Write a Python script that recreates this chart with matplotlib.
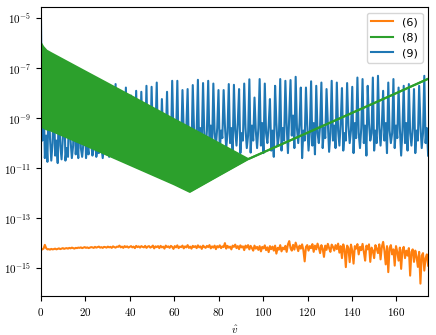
import numpy as np
import matplotlib
matplotlib.use("Agg")
from matplotlib import pyplot as plt

plt.rcParams['font.family'] = 'serif'
plt.rcParams['font.serif'] = ['cmr10']
plt.rcParams['mathtext.fontset'] = 'cm'
plt.rcParams['axes.formatter.use_mathtext'] = True
plt.rcParams['font.size'] = 8

# sample grid of v-hat (same for (6) and (9))
v_end = 174.3
n_pts = 302

# (9): log10 values, first two points then rows of [spike, noise, noise, noise]
blue_log = [
    -5.08, -9.9,
    -7.9, -10.6, -9.7, -10.75,
    -7.9, -9.8, -10.7, -10.0,
    -8.0, -10.5, -9.9, -10.8,
    -7.9, -10.1, -10.65, -9.8,
    -8.0, -10.7, -10.2, -10.55,
    -7.9, -9.9, -10.6, -10.1,
    -8.0, -10.45, -9.8, -10.6,
    -7.9, -10.2, -10.55, -10.0,
    -8.0, -10.6, -10.1, -10.45,
    -7.9, -10.0, -10.5, -10.2,
    -8.0, -10.55, -10.05, -10.4,
    -7.9, -10.15, -10.6, -10.1,
    -8.0, -10.45, -10.2, -10.55,
    -7.9, -10.1, -10.4, -9.9,
    -7.64, -10.3, -9.8, -10.2,
    -7.95, -9.9, -10.35, -10.0,
    -7.78, -10.2, -9.7, -10.3,
    -8.1, -10.0, -10.4, -9.8,
    -7.91, -10.3, -9.9, -10.1,
    -7.95, -9.7, -10.3, -10.0,
    -7.71, -10.2, -9.8, -10.35,
    -7.75, -9.9, -10.2, -9.6,
    -7.58, -10.3, -9.7, -10.1,
    -8.24, -9.8, -10.25, -9.9,
    -7.95, -10.1, -9.6, -10.3,
    -7.51, -9.7, -10.2, -9.8,
    -7.51, -10.3, -9.5, -10.0,
    -7.88, -9.6, -10.1, -9.4,
    -7.84, -10.2, -9.7, -10.3,
    -7.68, -9.5, -10.0, -9.6,
    -7.47, -10.25, -9.4, -9.9,
    -7.60, -9.7, -10.3, -9.5,
    -7.51, -10.0, -9.3, -10.2,
    -7.62, -9.6, -10.1, -9.4,
    -7.88, -10.3, -9.5, -9.8,
    -7.88, -9.3, -10.2, -9.6,
    -7.64, -10.0, -9.4, -10.35,
    -7.67, -9.5, -10.1, -9.2,
    -7.84, -10.4, -9.6, -9.9,
    -7.62, -9.4, -10.2, -9.7,
    -7.45, -10.38, -9.3, -9.9,
    -8.18, -9.5, -10.2, -9.4,
    -7.44, -10.1, -9.2, -10.4,
    -7.62, -9.6, -10.0, -9.3,
    -8.24, -10.3, -9.5, -10.55,
    -7.71, -9.2, -10.1, -9.7,
    -7.44, -10.3, -9.4, -9.9,
    -7.51, -9.3, -10.4, -9.0,
    -7.48, -9.7, -8.9, -10.2,
    -7.35, -9.4, -10.0, -9.2,
    -7.78, -10.6, -9.5, -9.9,
    -7.78, -9.3, -10.3, -9.6,
    -7.53, -10.1, -9.2, -10.45,
    -7.71, -9.6, -10.0, -9.3,
    -7.58, -10.2, -9.4, -9.8,
    -7.84, -9.2, -10.35, -9.6,
    -7.51, -9.9, -9.3, -10.2,
    -7.58, -9.5, -10.1, -9.2,
    -7.80, -10.3, -9.6, -9.9,
    -7.60, -9.3, -10.0, -9.5,
    -7.75, -10.4, -9.2, -9.8,
    -7.38, -9.6, -10.2, -9.4,
    -7.44, -10.0, -9.3, -10.5,
    -7.71, -9.2, -9.9, -9.6,
    -7.38, -10.3, -9.5, -10.0,
    -7.31, -9.4, -10.1, -9.3,
    -7.91, -9.9, -9.2, -10.4,
    -7.58, -9.5, -10.0, -9.6,
    -7.44, -10.2, -9.3, -9.8,
    -7.78, -9.4, -10.5, -9.5,
    -7.71, -10.0, -9.2, -10.3,
    -7.64, -9.6, -10.1, -9.4,
    -7.84, -10.4, -9.5, -9.9,
    -7.71, -9.3, -10.2, -9.6,
    -7.31, -10.0, -9.4, -10.5,
]

# (6): log10 values
orange_log = [
    -14.27, -14.25, -14.22, -14.07, -14.2, -14.25, -14.24, -14.26, -14.23, -14.25,
    -14.24, -14.22, -14.25, -14.23, -14.21, -14.24, -14.22, -14.2, -14.23, -14.21,
    -14.2, -14.22, -14.19, -14.21, -14.18, -14.2, -14.22, -14.19, -14.2, -14.18,
    -14.19, -14.17, -14.2, -14.18, -14.16, -14.19, -14.17, -14.2, -14.18, -14.16,
    -14.17, -14.19, -14.15, -14.18, -14.16, -14.14, -14.18, -14.16, -14.19, -14.15,
    -14.16, -14.18, -14.14, -14.17, -14.15, -14.19, -14.13, -14.16, -14.18, -14.14,
    -14.15, -14.1, -14.17, -14.14, -14.19, -14.12, -14.16, -14.13, -14.18, -14.15,
    -14.12, -14.17, -14.14, -14.2, -14.11, -14.16, -14.13, -14.18, -14.12, -14.15,
    -14.17, -14.11, -14.19, -14.14, -14.12, -14.18, -14.15, -14.1, -14.21, -14.13,
    -14.16, -14.12, -14.2, -14.11, -14.17, -14.14, -14.22, -14.1, -14.16, -14.13,
    -14.19, -14.11, -14.15, -14.23, -14.12, -14.17, -14.09, -14.2, -14.14, -14.16,
    -14.1, -14.21, -14.13, -14.17, -14.08, -14.19, -14.14, -14.22, -14.11, -14.16,
    -14.12, -14.2, -14.09, -14.17, -14.13, -14.23, -14.1, -14.15, -14.19, -14.11,
    -14.16, -14.08, -14.21, -14.13, -14.18, -14.1, -14.24, -14.12, -14.17, -14.09,
    -14.2, -14.13, -14.16, -14.0, -14.22, -14.11, -14.18, -14.14, -14.25, -14.1,
    -14.15, -14.06, -14.2, -14.12, -14.24, -14.09, -14.17, -14.13, -14.28, -14.1,
    -14.18, -14.08, -14.25, -14.11, -14.2, -14.3, -14.1, -14.22, -14.15, -14.27,
    -14.12, -14.33, -14.15, -14.21, -14.09, -14.28, -14.17, -14.36, -14.12, -14.24,
    -14.14, -14.3, -14.1, -14.42, -14.19, -14.26, -14.08, -14.33, -14.18, -14.25,
    -14.11, -14.35, -14.05, -13.92, -14.2, -14.3, -14.07, -14.26, -13.98, -14.15,
    -14.32, -14.1, -14.22, -14.05, -14.28, -14.73, -14.15, -14.08, -14.3, -14.12,
    -14.2, -14.04, -14.35, -14.1, -14.25, -14.02, -14.18, -14.4, -14.08, -14.22,
    -14.55, -14.1, -14.27, -14.03, -14.2, -14.35, -14.06, -14.15, -14.3, -14.08,
    -14.24, -14.02, -14.38, -14.12, -14.6, -14.05, -14.25, -14.96, -14.1, -14.2,
    -14.76, -14.06, -14.3, -14.82, -14.12, -14.22, -14.04, -14.45, -14.15, -14.28,
    -14.03, -14.35, -14.7, -14.1, -14.25, -14.05, -14.75, -14.18, -14.3, -14.6,
    -14.08, -14.22, -14.4, -14.05, -14.65, -14.15, -13.95, -14.3, -14.85, -14.12,
    -15.16, -14.2, -14.08, -14.45, -14.25, -14.9, -14.12, -14.35, -14.7, -14.18,
    -15.03, -14.28, -14.15, -14.6, -14.3, -14.5, -14.2, -15.3, -14.35, -14.25,
    -14.75, -14.3, -14.55, -14.95, -14.35, -15.62, -14.5, -14.4, -15.1, -14.6,
    -14.45, -14.9,
]

# (8): envelope of the fast oscillation, log10 values
green_x = [0, 1, 2.5, 4.5, 20, 40, 60, 67, 80, 93.3, 110, 130, 150, 174.3]
green_hi = [-6.0, -6.15, -6.3, -6.4, -7.14, -8.09, -9.05, -9.38, -10.0, -10.64,
            -9.98, -9.19, -8.40, -7.43]
green_lo = [-9.31, -9.38, -9.45, -9.50, -10.09, -10.87, -11.65, -11.95, -11.30, -10.64,
            -9.98, -9.19, -8.40, -7.43]

v = np.linspace(0, v_end, n_pts)

fig = plt.figure(figsize=(4.36, 3.35), dpi=100)
ax = fig.add_axes([0.094, 0.116, 0.888, 0.863])

l9, = ax.plot(v, 10.0 ** np.array(blue_log), color='C0', lw=1.5, zorder=2)
l6, = ax.plot(v, 10.0 ** np.array(orange_log), color='C1', lw=1.5, zorder=2.1)
ax.fill_between(green_x, 10.0 ** np.array(green_lo), 10.0 ** np.array(green_hi),
                color='C2', lw=0, zorder=2.2)
ax.plot(green_x, 10.0 ** np.array(green_lo), color='C2', lw=1.5, zorder=2.3)
l8, = ax.plot(green_x, 10.0 ** np.array(green_hi), color='C2', lw=1.5, zorder=2.3)

ax.set_yscale('log')
ax.set_xlim(0, v_end)
ax.set_ylim(10 ** -16.12, 10 ** -4.56)
ax.set_yticks([1e-15, 1e-13, 1e-11, 1e-9, 1e-7, 1e-5])
ax.yaxis.set_minor_locator(matplotlib.ticker.NullLocator())
ax.set_xticks([0, 20, 40, 60, 80, 100, 120, 140, 160])
ax.set_xlabel(r'$\hat{v}$')

ax.legend([l6, l8, l9], ['(6)', '(8)', '(9)'], loc='upper right',
          prop={'family': 'DejaVu Sans', 'size': 8})

fig.savefig('out.png', dpi=100)
